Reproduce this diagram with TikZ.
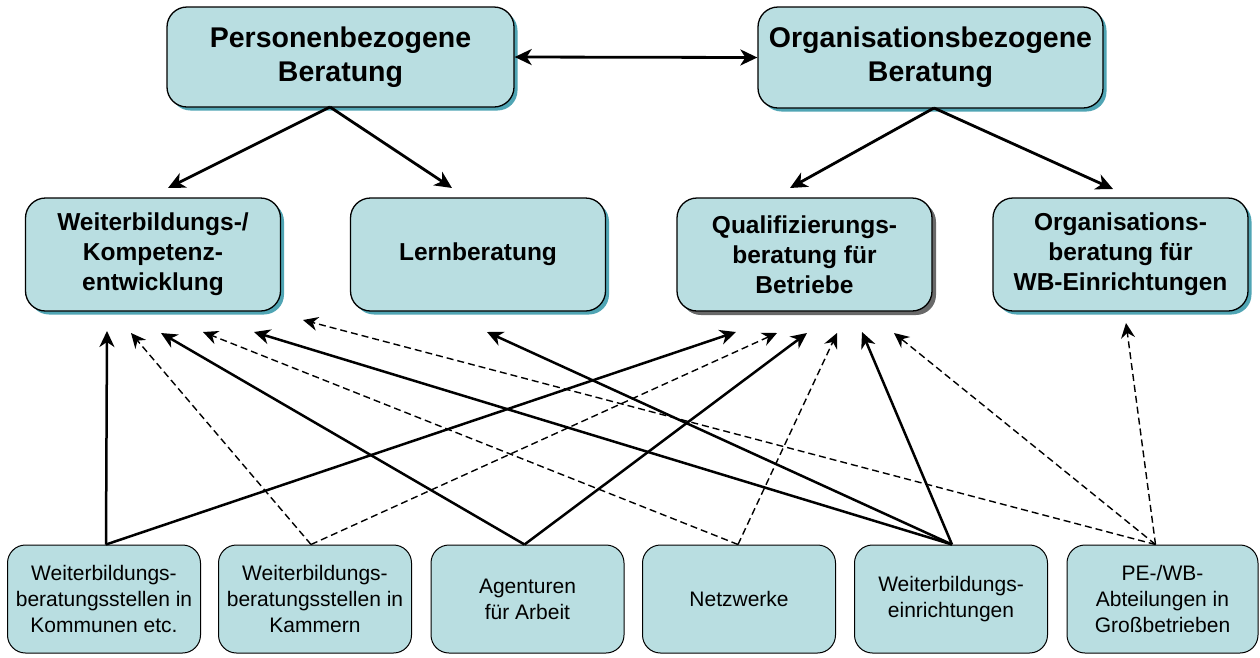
\documentclass[tikz,border=0pt]{standalone}
\usepackage{fontspec}
\setmainfont{Liberation Sans}
\usetikzlibrary{arrows.meta,shadows,calc}
\definecolor{boxfill}{RGB}{185,222,225}
\definecolor{shteal}{RGB}{80,165,180}
\definecolor{shgray}{RGB}{105,105,105}
\begin{document}
\begin{tikzpicture}[x=1pt,y=-1pt,
  basebox/.style={draw=black, fill=boxfill, inner sep=0pt, align=center},
  topbox/.style={basebox, line width=1.3pt, rounded corners=20pt,
     general shadow={fill=shteal, shadow xshift=3.5pt, shadow yshift=-3.5pt},
     font=\fontsize{28.5}{34}\selectfont\bfseries},
  midbox/.style={basebox, line width=1.3pt, rounded corners=20pt, minimum width=255pt, minimum height=113pt,
     general shadow={fill=shteal, shadow xshift=3.5pt, shadow yshift=-3.5pt},
     font=\fontsize{24.5}{30}\selectfont\bfseries},
  graybox/.style={midbox, general shadow={fill=shgray, shadow xshift=4pt, shadow yshift=-4pt}},
  lowbox/.style={basebox, line width=1pt, rounded corners=18pt, minimum width=193pt, minimum height=108pt,
     font=\fontsize{21}{26}\selectfont},
  toparrow/.style={line width=2.8pt, -{Stealth[length=17pt,width=16pt,inset=5pt]}},
  solidarrow/.style={line width=2.5pt, -{Stealth[length=16pt,width=15pt,inset=5pt]}},
  dasharrow/.style={line width=1.4pt, dash pattern=on 7pt off 4pt, -{Stealth[length=15pt,width=14pt,inset=5pt]}}
]
\useasboundingbox (0,0) rectangle (1260,657);

% top row
\node[topbox, minimum width=347pt, minimum height=100pt] (pb) at (340.5,57) {Personenbezogene\\Beratung};
\node[topbox, minimum width=345pt, minimum height=101pt] (ob) at (930.5,57.5) {Organisationsbezogene\\Beratung};

% middle row
\node[midbox] (wk) at (153,254.5) {Weiterbildungs-/\\Kompetenz-\\entwicklung};
\node[midbox] (lb) at (478,254.5) {Lernberatung};
\node[graybox] (qb) at (804.5,254.5) {Qualifizierungs-\\beratung für\\Betriebe};
\node[midbox] (ow) at (1120.5,254.5) {Organisations-\\beratung für\\WB-Einrichtungen};

% bottom row
\node[lowbox] (b1) at (104,599) {Weiterbildungs-\\beratungsstellen in\\Kommunen etc.};
\node[lowbox] (b2) at (315,599) {Weiterbildungs-\\beratungsstellen in\\Kammern};
\node[lowbox] (b3) at (527.5,599) {Agenturen\\für Arbeit};
\node[lowbox] (b4) at (739,599) {Netzwerke};
\node[lowbox] (b5) at (951,599) {Weiterbildungs-\\einrichtungen};
\node[lowbox, minimum width=191pt] (b6) at (1162.5,599) {PE-/WB-\\Abteilungen in\\Großbetrieben};

% free ends and start points
\coordinate (pbs) at (330,107);
\coordinate (obs) at (934,108);
\coordinate (t1) at (168,188);
\coordinate (t2) at (452,188);
\coordinate (t3) at (790,188);
\coordinate (t4) at (1113,189);

\coordinate (s1) at ($(b1.north)+(2,0)$);
\coordinate (s2) at ($(b2.north)+(-4,0)$);
\coordinate (s3) at ($(b3.north)+(-3,0)$);
\coordinate (s4) at ($(b4.north)+(-1,0)$);
\coordinate (s5) at ($(b5.north)+(1,0)$);
\coordinate (s6) at ($(b6.north)+(-7,0)$);

\coordinate (w1) at (107,331);
\coordinate (w2) at (131,333);
\coordinate (w3) at (161,333);
\coordinate (w4) at (203,332);
\coordinate (w5) at (254,332);
\coordinate (w6) at (303,320);
\coordinate (l1) at (487,332);
\coordinate (q1) at (736,332);
\coordinate (q2) at (777,333);
\coordinate (q3) at (807,333);
\coordinate (q4) at (837,333);
\coordinate (q5) at (862,332);
\coordinate (q6) at (894,333);
\coordinate (o1) at (1126,323);

% top connectors
\draw[line width=2.8pt, {Stealth[length=17pt,width=16pt,inset=5pt]}-{Stealth[length=17pt,width=16pt,inset=5pt]}] (pb.east) -- (ob.west);
\draw[toparrow] (pbs) -- (t1);
\draw[toparrow] (pbs) -- (t2);
\draw[toparrow] (obs) -- (t3);
\draw[toparrow] (obs) -- (t4);

% bottom connectors
\draw[solidarrow] (s1) -- (w1);
\draw[solidarrow] (s1) -- (q1);
\draw[dasharrow] (s2) -- (w2);
\draw[dasharrow] (s2) -- (q2);
\draw[solidarrow] (s3) -- (w3);
\draw[solidarrow] (s3) -- (q3);
\draw[dasharrow] (s4) -- (w4);
\draw[dasharrow] (s4) -- (q4);
\draw[solidarrow] (s5) -- (w5);
\draw[solidarrow] (s5) -- (l1);
\draw[solidarrow] (s5) -- (q5);
\draw[dasharrow] (s6) -- (w6);
\draw[dasharrow] (s6) -- (q6);
\draw[dasharrow] (s6) -- (o1);
\end{tikzpicture}
\end{document}
